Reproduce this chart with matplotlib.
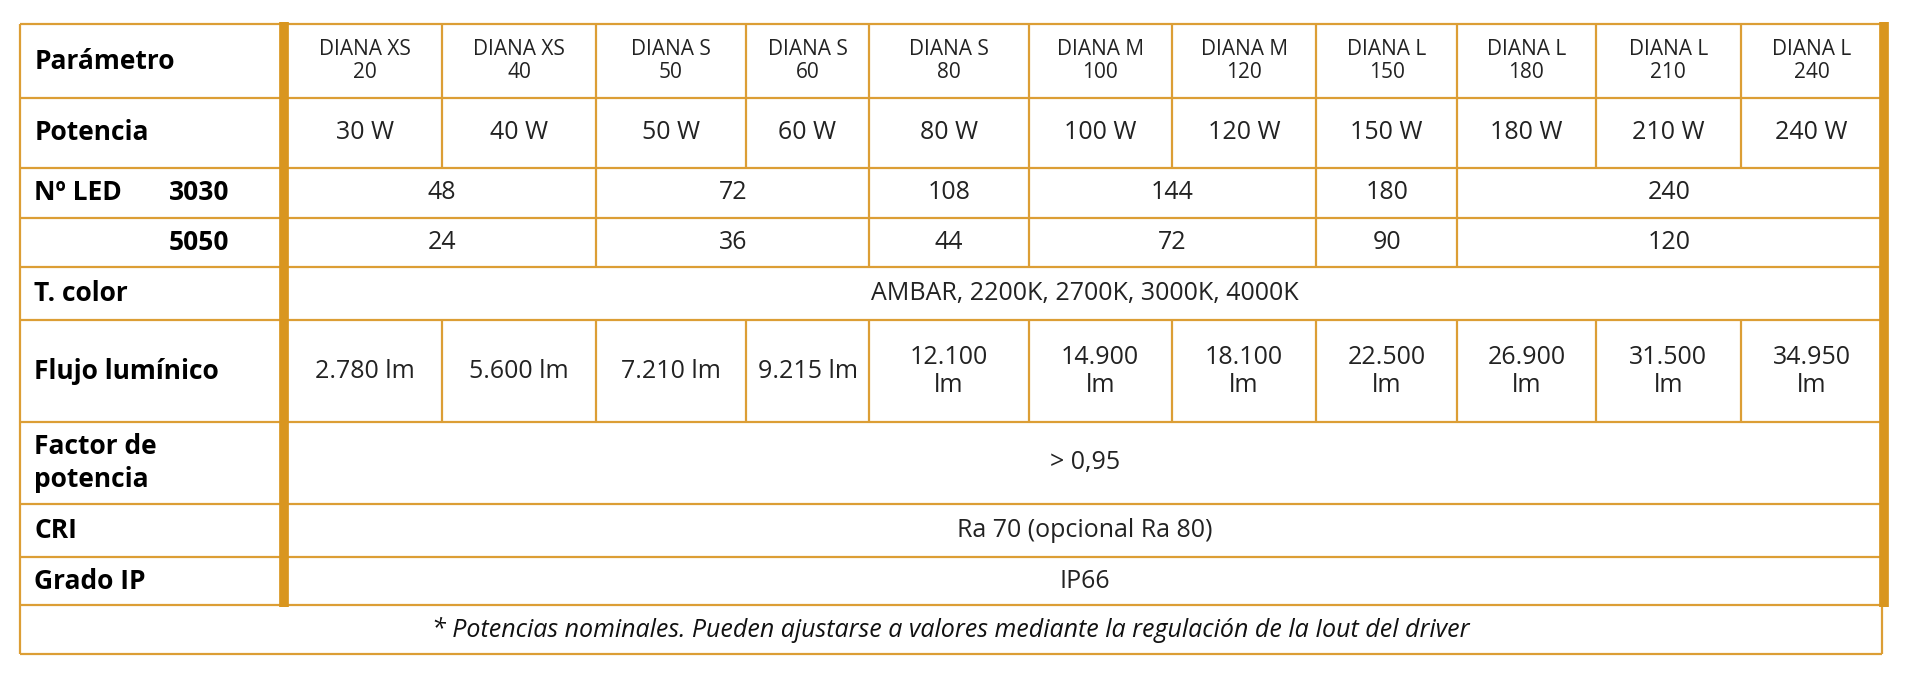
import matplotlib.pyplot as plt

# ---------------- data ----------------
models = ["DIANA XS\n20", "DIANA XS\n40", "DIANA S\n50", "DIANA S\n60", "DIANA S\n80",
          "DIANA M\n100", "DIANA M\n120", "DIANA L\n150", "DIANA L\n180", "DIANA L\n210", "DIANA L\n240"]
potencia = ["30 W", "40 W", "50 W", "60 W", "80 W", "100 W", "120 W", "150 W", "180 W", "210 W", "240 W"]
led_spans = [(0, 2), (2, 4), (4, 5), (5, 7), (7, 8), (8, 11)]
led_3030 = ["48", "72", "108", "144", "180", "240"]
led_5050 = ["24", "36", "44", "72", "90", "120"]
t_color = "AMBAR, 2200K, 2700K, 3000K, 4000K"
flujo = ["2.780 lm", "5.600 lm", "7.210 lm", "9.215 lm", "12.100\nlm", "14.900\nlm",
         "18.100\nlm", "22.500\nlm", "26.900\nlm", "31.500\nlm", "34.950\nlm"]
factor = "> 0,95"
cri = "Ra 70 (opcional Ra 80)"
grado_ip = "IP66"
nota = "* Potencias nominales. Pueden ajustarse a valores mediante la regulación de la Iout del driver"

# ---------------- layout (reference pixel units, 1568 wide) ----------------
W, H = 1568, 569
col_x = [235, 361, 487, 609, 710, 840, 957, 1075, 1190, 1303, 1422, 1537]
row_y = [20, 80, 137, 178, 218, 262, 345, 412, 455, 495]
left, foot_bottom = 16, 535
orange = "#DC9E35"
bar = "#D9961F"

plt.rcParams['font.family'] = ['Open Sans', 'DejaVu Sans']
fig = plt.figure(figsize=(19.2, 6.96), dpi=100)
ax = fig.add_axes([0, 0, 1, 1])
ax.set_xlim(0, W)
ax.set_ylim(H, 0)
ax.axis('off')

lw = 1.6
def hline(y, x0, x1):
    ax.plot([x0, x1], [y, y], color=orange, lw=lw, solid_capstyle='butt')
def vline(x, y0, y1):
    ax.plot([x, x], [y0, y1], color=orange, lw=lw, solid_capstyle='butt')

# horizontal lines
for y in row_y:
    hline(y, left, col_x[-1])
hline(foot_bottom, left, col_x[-1])
vline(left, row_y[0], foot_bottom)
vline(col_x[-1], row_y[-1], foot_bottom)

# inner vertical lines for per-model rows (0,1 and flujo row 5)
for r in (0, 1, 5):
    for x in col_x[1:-1]:
        vline(x, row_y[r], row_y[r + 1])
for s0, s1 in led_spans[:-1]:
    vline(col_x[s1], row_y[2], row_y[4])

# thick bars
ax.plot([232, 232], [row_y[0] - 2, row_y[-1] + 1], color=bar, lw=7, solid_capstyle='butt')
ax.plot([1539, 1539], [row_y[0] - 2, row_y[-1] + 1], color=bar, lw=7, solid_capstyle='butt')

lab_fs, dat_fs, hdr_fs = 19, 18, 15
def label(r, text, x=28):
    ax.text(x, (row_y[r] + row_y[r + 1]) / 2, text, fontsize=lab_fs, fontweight='bold',
            ha='left', va='center', linespacing=1.25)
def cell(x0, x1, r, text, fs=dat_fs):
    ax.text((x0 + x1) / 2, (row_y[r] + row_y[r + 1]) / 2, text, fontsize=fs,
            ha='center', va='center', color='#222222', linespacing=1.15)

label(0, "Parámetro")
label(1, "Potencia")
label(2, "Nº LED")
ax.text(138, (row_y[2] + row_y[3]) / 2, "3030", fontsize=lab_fs, fontweight='bold', va='center')
ax.text(138, (row_y[3] + row_y[4]) / 2, "5050", fontsize=lab_fs, fontweight='bold', va='center')
label(4, "T. color")
label(5, "Flujo lumínico")
label(6, "Factor de\npotencia")
label(7, "CRI")
label(8, "Grado IP")

for i in range(11):
    cell(col_x[i], col_x[i + 1], 0, models[i], hdr_fs)
    cell(col_x[i], col_x[i + 1], 1, potencia[i])
    cell(col_x[i], col_x[i + 1], 5, flujo[i])
for (s0, s1), a, b in zip(led_spans, led_3030, led_5050):
    cell(col_x[s0], col_x[s1], 2, a)
    cell(col_x[s0], col_x[s1], 3, b)
cell(col_x[0], col_x[-1], 4, t_color)
cell(col_x[0], col_x[-1], 6, factor)
cell(col_x[0], col_x[-1], 7, cri)
cell(col_x[0], col_x[-1], 8, grado_ip)
ax.text((left + col_x[-1]) / 2, (row_y[-1] + foot_bottom) / 2, nota, fontsize=dat_fs,
        style='italic', ha='center', va='center', color='#111111')

fig.savefig("out.png", dpi=100, facecolor='white')
